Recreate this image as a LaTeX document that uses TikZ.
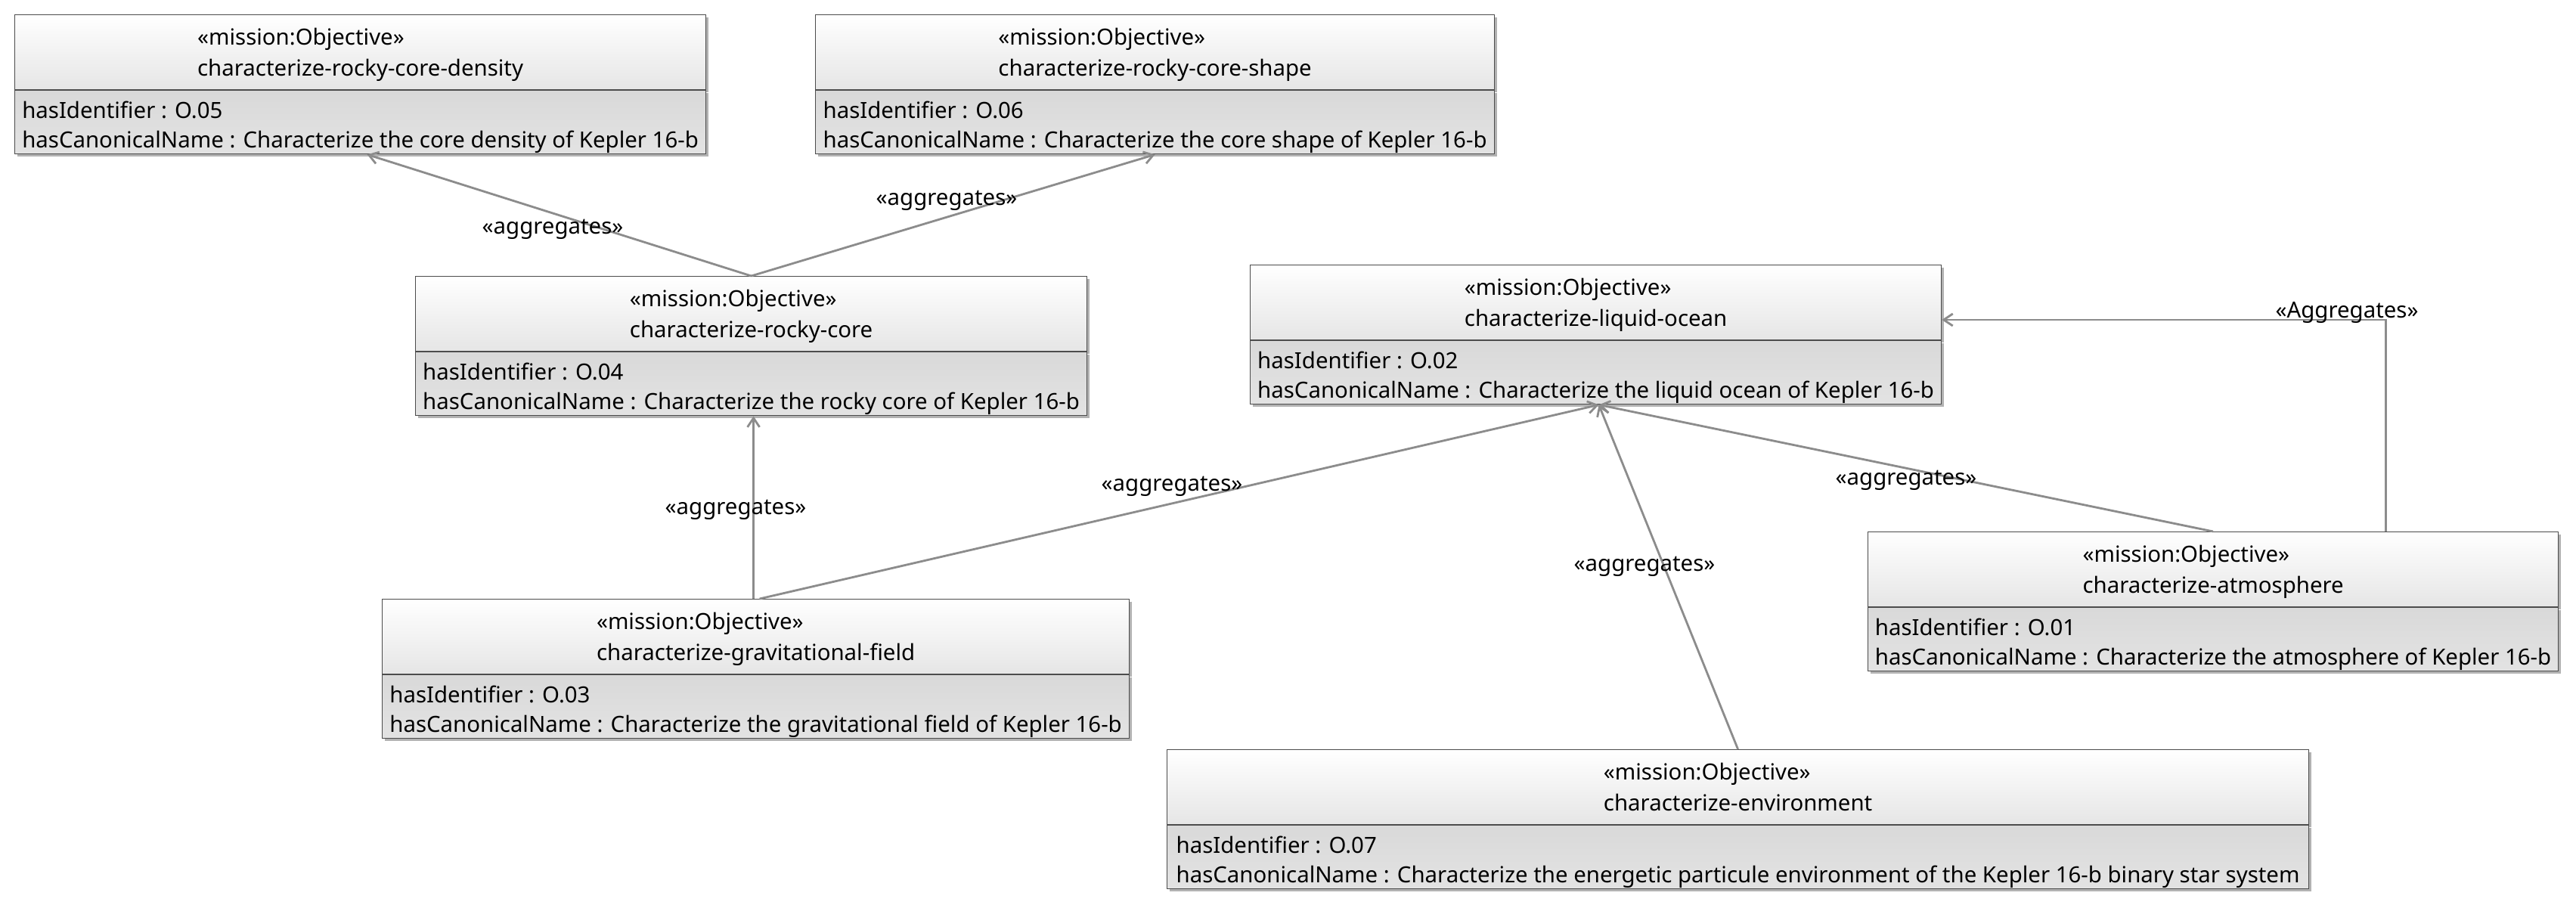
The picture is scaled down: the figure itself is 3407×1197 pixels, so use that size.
\documentclass[tikz,border=0pt]{standalone}
\usepackage{fontspec}
\newfontfamily\notosans{Noto Sans}
\usetikzlibrary{arrows.meta,calc,shadows}

\begin{document}
\begin{tikzpicture}[
  x=0.5pt, y=-0.5pt,
  font=\notosans\fontsize{14.7pt}{19.5pt}\selectfont,
  objhead/.style={draw=black!70, line width=0.6pt, top color=white, bottom color=black!10,
    anchor=north west, minimum height=49.5pt, inner sep=0pt, align=left,
    font=\notosans\fontsize{14.7pt}{20.5pt}\selectfont,
    text height=36.5pt, text depth=5pt,
    drop shadow={shadow xshift=1.5pt, shadow yshift=-1.5pt, fill=black, opacity=.3}},
  objattrs/.style={draw=black!70, line width=0.6pt, top color=black!15, bottom color=black!11,
    anchor=north west, minimum height=42pt, inner sep=0pt, align=left,
    text height=35.7pt, text depth=2pt,
    drop shadow={shadow xshift=1.5pt, shadow yshift=-1.5pt, fill=black, opacity=.3}},
  aggregates/.style={draw=black!45, line width=1.4pt, -{Straight Barb[length=6pt, width=8pt]}},
  stereo/.style={inner sep=0pt}]

  % page background
  \fill[white] (0,0) rectangle (3407,1197);
  \useasboundingbox (0,0) rectangle (3407,1197);

  % Objective boxes: header with stereotype and name, then attributes
  \node[objhead, minimum width=457pt] (rocky-core-density) at (19,19)
    {«mission:Objective»\\characterize-rocky-core-density};
  \node[objattrs, minimum width=457pt] (rocky-core-density-attrs) at (rocky-core-density.south west)
    {hasIdentifier : O.05\\hasCanonicalName : Characterize the core density of Kepler 16-b};

  \node[objhead, minimum width=449pt] (rocky-core-shape) at (1078,19)
    {«mission:Objective»\\characterize-rocky-core-shape};
  \node[objattrs, minimum width=449pt] (rocky-core-shape-attrs) at (rocky-core-shape.south west)
    {hasIdentifier : O.06\\hasCanonicalName : Characterize the core shape of Kepler 16-b};

  \node[objhead, minimum width=444pt] (rocky-core) at (549,365)
    {«mission:Objective»\\characterize-rocky-core};
  \node[objattrs, minimum width=444pt] (rocky-core-attrs) at (rocky-core.south west)
    {hasIdentifier : O.04\\hasCanonicalName : Characterize the rocky core of Kepler 16-b};

  \node[objhead, minimum width=457pt] (liquid-ocean) at (1653,350)
    {«mission:Objective»\\characterize-liquid-ocean};
  \node[objattrs, minimum width=457pt] (liquid-ocean-attrs) at (liquid-ocean.south west)
    {hasIdentifier : O.02\\hasCanonicalName : Characterize the liquid ocean of Kepler 16-b};

  \node[objhead, minimum width=456.5pt] (atmosphere) at (2470,703)
    {«mission:Objective»\\characterize-atmosphere};
  \node[objattrs, minimum width=456.5pt] (atmosphere-attrs) at (atmosphere.south west)
    {hasIdentifier : O.01\\hasCanonicalName : Characterize the atmosphere of Kepler 16-b};

  \node[objhead, minimum width=494pt] (gravitational-field) at (505,792)
    {«mission:Objective»\\characterize-gravitational-field};
  \node[objattrs, minimum width=494pt] (gravitational-field-attrs) at (gravitational-field.south west)
    {hasIdentifier : O.03\\hasCanonicalName : Characterize the gravitational field of Kepler 16-b};

  \node[objhead, minimum width=755pt] (environment) at (1543,991)
    {«mission:Objective»\\characterize-environment};
  \node[objattrs, minimum width=755pt] (environment-attrs) at (environment.south west)
    {hasIdentifier : O.07\\hasCanonicalName : Characterize the energetic particule environment of the Kepler 16-b binary star system};

  % aggregation links
  \draw[aggregates] (rocky-core.north) -- ($(rocky-core-density-attrs.south)+(9,0)$);
  \draw[aggregates] (rocky-core.north) -- (rocky-core-shape-attrs.south);
  \draw[aggregates] ($(gravitational-field.north)+(-3,0)$) -- ($(rocky-core-attrs.south)+(3,0)$);
  \draw[aggregates] ($(gravitational-field.north)+(5,0)$) -- ($(liquid-ocean-attrs.south)+(4,0)$);
  \draw[aggregates] (environment.north) -- ($(liquid-ocean-attrs.south)+(4,0)$);
  \draw[aggregates] (atmosphere.north) -- ($(liquid-ocean-attrs.south)+(4,0)$);
  \draw[aggregates] ($(atmosphere.north east)+(-229,0)$) |- ($(liquid-ocean.north east)+(0,73)$);

  % link labels
  \node[stereo] (density-tag) at (731,303) {«aggregates»};
  \node[stereo] (shape-tag) at (1252,265) {«aggregates»};
  \node[stereo] (rocky-core-tag) at (973,674) {«aggregates»};
  \node[stereo] (gravitational-tag) at (1550,643) {«aggregates»};
  \node[stereo] (environment-tag) at (2175,749) {«aggregates»};
  \node[stereo] (atmosphere-tag) at (2521,635) {«aggregates»};
  \node[stereo] (atmosphere-side-tag) at (3104,413) {«Aggregates»};

\end{tikzpicture}
\end{document}
